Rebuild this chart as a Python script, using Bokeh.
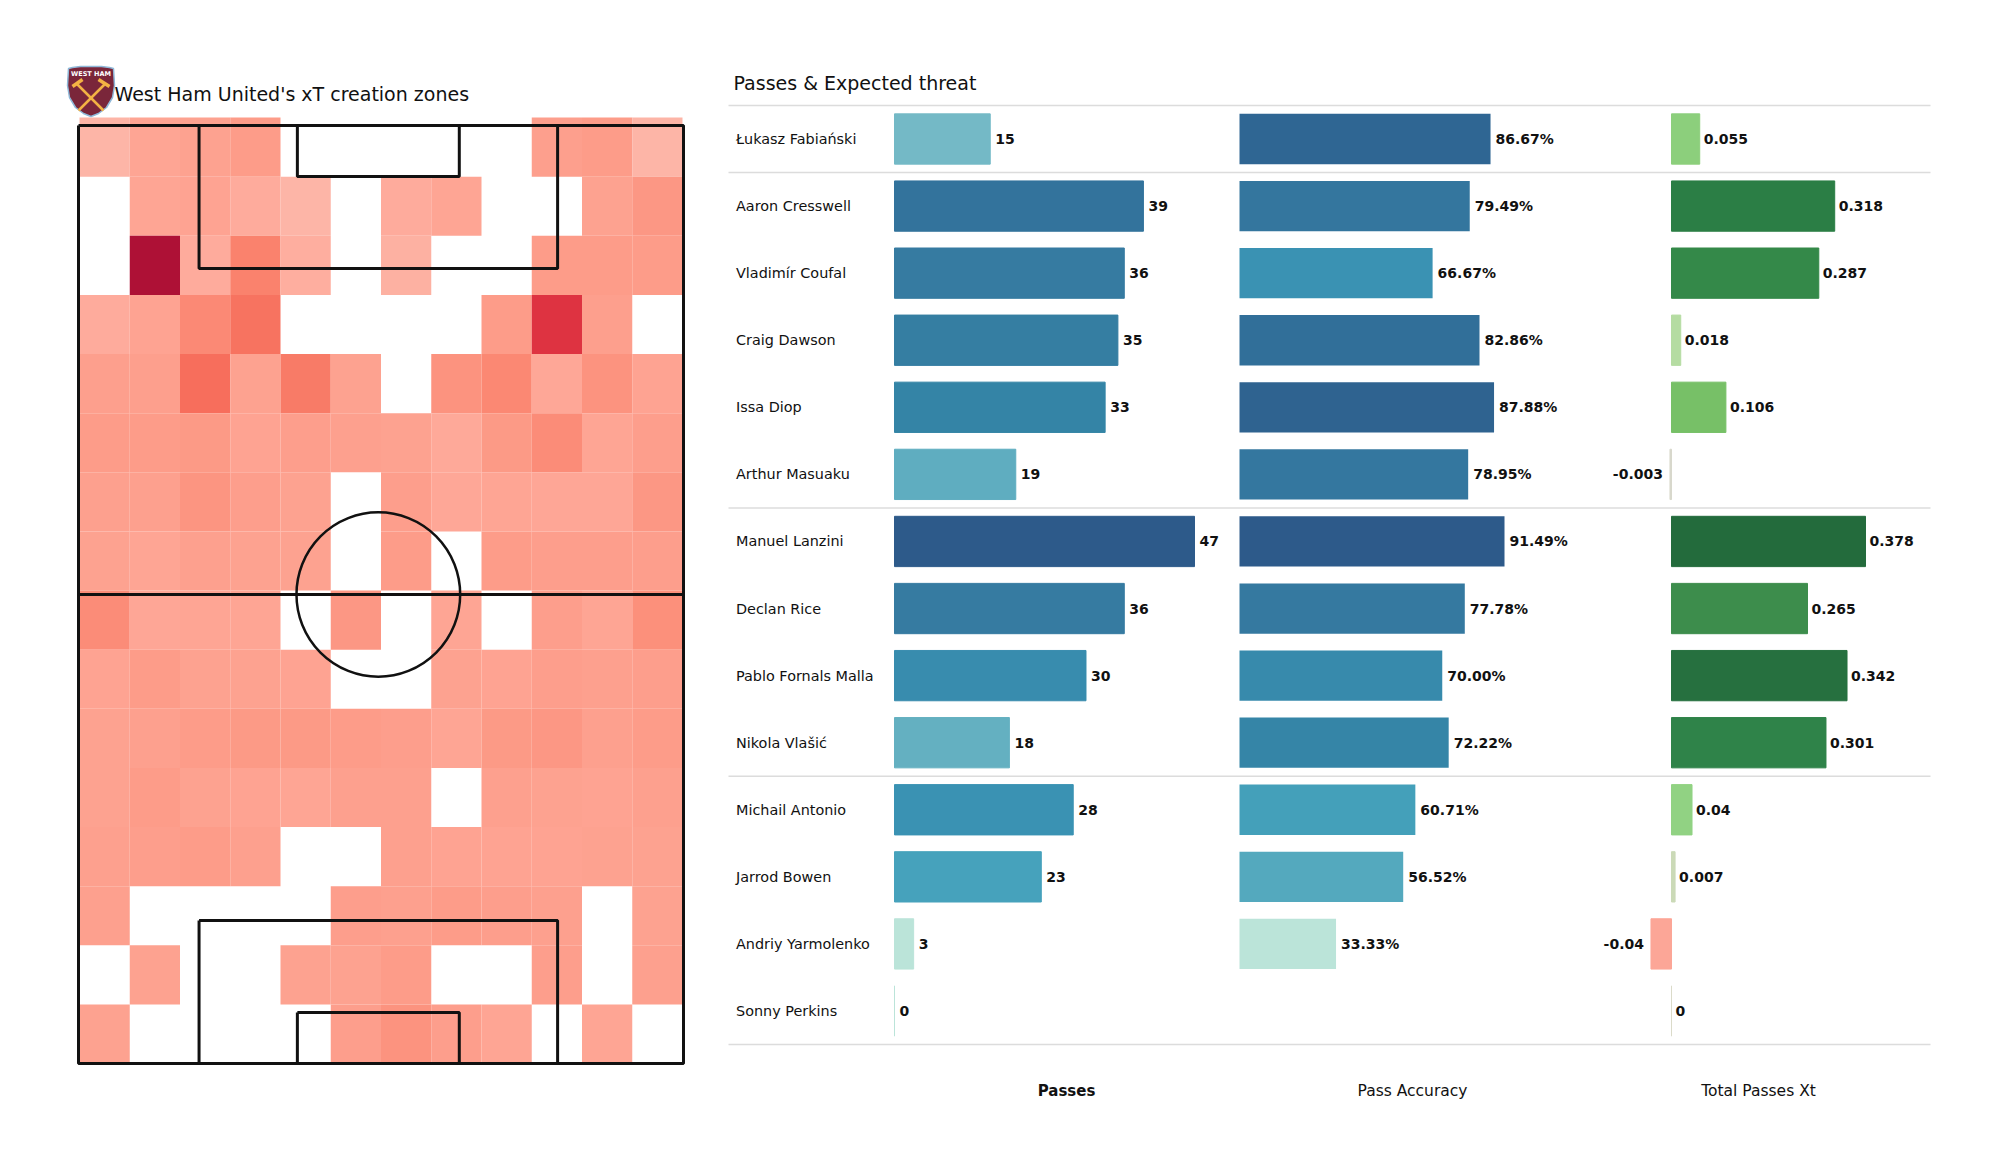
import math
from bokeh.plotting import figure
from bokeh.models import Range1d, ColumnDataSource, LinearColorMapper
from bokeh.core.properties import value
from bokeh.embed import file_html
from bokeh.resources import INLINE

# ---------- data ----------
players = ["Łukasz Fabiański", "Aaron Cresswell", "Vladimír Coufal", "Craig Dawson", "Issa Diop",
           "Arthur Masuaku", "Manuel Lanzini", "Declan Rice", "Pablo Fornals Malla", "Nikola Vlašić",
           "Michail Antonio", "Jarrod Bowen", "Andriy Yarmolenko", "Sonny Perkins"]
passes = [15, 39, 36, 35, 33, 19, 47, 36, 30, 18, 28, 23, 3, 0]
accuracy = [86.67, 79.49, 66.67, 82.86, 87.88, 78.95, 91.49, 77.78, 70.00, 72.22, 60.71, 56.52, 33.33, None]
xt = [0.055, 0.318, 0.287, 0.018, 0.106, -0.003, 0.378, 0.265, 0.342, 0.301, 0.04, 0.007, -0.04, 0]
xt_labels = ["0.055", "0.318", "0.287", "0.018", "0.106", "-0.003", "0.378", "0.265", "0.342", "0.301", "0.04", "0.007", "-0.04", "0"]
separators_after = [-1, 0, 5, 9, 13]
columns = ["Passes", "Pass Accuracy", "Total Passes Xt"]

N = None
zones = [
    [15, 28, 32, 38, N, N, N, N, N, 35, 38, 15],
    [N, 28, 30, 22, 15, N, 22, 28, N, N, 32, 42],
    [N, 100, 22, 58, 20, N, 18, N, N, 38, 38, 38],
    [22, 30, 52, 68, N, N, N, N, 38, 85, 35, N],
    [35, 35, 70, 32, 64, 32, N, 46, 53, 25, 46, 30],
    [38, 38, 40, 30, 36, 34, 32, 24, 40, 50, 28, 36],
    [34, 34, 44, 36, 32, N, 36, 25, 28, 26, 26, 42],
    [32, 28, 34, 32, 32, N, 38, N, 38, 36, 36, 36],
    [50, 26, 28, 28, N, 42, N, 28, N, 36, 28, 48],
    [30, 38, 32, 32, 30, N, N, 32, 30, 36, 34, 36],
    [32, 34, 38, 40, 40, 38, 36, 28, 40, 42, 34, 38],
    [32, 38, 32, 30, 28, 34, 34, N, 34, 32, 30, 34],
    [34, 36, 38, 34, N, N, 34, 30, 30, 30, 32, 32],
    [34, N, N, N, N, 36, 34, 38, 36, 34, N, 32],
    [N, 32, N, N, 32, 32, 38, N, N, 36, N, 34],
    [32, N, N, N, N, 36, 46, 36, 28, N, 28, N],
]

# ---------- palettes ----------
def ramp(stops, n=256):
    out = []
    for i in range(n):
        t = i / (n - 1)
        for (a, ca), (b, cb) in zip(stops, stops[1:]):
            if a <= t <= b:
                f = (t - a) / (b - a) if b > a else 0
                rgb = [round(int(ca[k:k+2], 16) + f * (int(cb[k:k+2], 16) - int(ca[k:k+2], 16))) for k in (1, 3, 5)]
                out.append("#%02x%02x%02x" % tuple(rgb))
                break
    return out

heat_pal = ramp([(0, "#fdc4b8"), (.15, "#fdb5a7"), (.25, "#fea797"), (.35, "#fd9f8d"), (.45, "#fc9480"),
                 (.55, "#fb8570"), (.65, "#f87a66"), (.72, "#f66a58"), (.85, "#de3341"), (1, "#ae1136")])
blue_pal = ramp([(0, "#bbe4d9"), (.27, "#74b9c6"), (.36, "#60aec0"), (.45, "#46a3bc"), (.57, "#3a92b3"),
                 (.68, "#3484a6"), (.75, "#367ba1"), (.85, "#31709a"), (1, "#2d5a8a")])
green_pal = ramp([(0, "#fca697"), (.085, "#d8d8cc"), (.096, "#dcdcc8"), (.115, "#c4d9b0"), (.14, "#b3dca0"),
                  (.19, "#90d282"), (.22, "#8dd07d"), (.34, "#78c168"), (.72, "#3e8d4d"), (.78, "#358a49"),
                  (.81, "#30844a"), (.85, "#2c8046"), (.91, "#26703f"), (1, "#236b3c")])

# ---------- canvas: page pixels ----------
W, H = 1984, 1159
PX0, PY0 = 0, 0
PX1, PY1 = PX0 + W, PY0 + H

p = figure(width=W, height=H, output_backend="svg", toolbar_location=None,
           x_range=Range1d(PX0, PX1), y_range=Range1d(PY1, PY0),
           min_border=0, outline_line_color=None, background_fill_color="white", border_fill_color="white")
p.axis.visible = False
p.grid.visible = False

def xspan(v0, px0, v1, px1):
    k = (v1 - v0) / (px1 - px0)
    return Range1d(v0 + (PX0 - px0) * k, v0 + (PX1 - px0) * k)

def yspan(v0, px0, v1, px1):
    k = (v1 - v0) / (px1 - px0)
    return Range1d(v0 + (PY1 - px0) * k, v0 + (PY0 - px0) * k)

p.extra_x_ranges = {
    "cols": xspan(0, 79, 12, 682),
    "pitchx": xspan(0, 78, 68, 683),
    "passes": xspan(0, 894, 47, 1194),
    "acc": xspan(0, 1239, 91.49, 1504),
    "xt": xspan(0, 1671, 0.378, 1865),
}
p.extra_y_ranges = {
    "rows": yspan(0, 117, 16, 1063),
    "pitchy": yspan(0, 125, 105, 1063),
    "players": yspan(0, 138.5, 13, 1010.5),
}

FONT = value("DejaVu Sans")

# ---------- heat map ----------
cx, cy, cv = [], [], []
for r, row in enumerate(zones):
    for c, v in enumerate(row):
        if v is not None:
            cx.append(c + .5); cy.append(r + .5); cv.append(v)
heat_map = LinearColorMapper(palette=heat_pal, low=0, high=100)
p.rect(x="x", y="y", width=1, height=1, source=ColumnDataSource(dict(x=cx, y=cy, v=cv)),
       x_range_name="cols", y_range_name="rows",
       fill_color={"field": "v", "transform": heat_map}, line_color=None)

# ---------- pitch ----------
pw, pl = 68, 105
mid = 33.7
box_w, box_d = 40.3, 16
six_w, six_d = 18.2, 5.7
def rect_path(x0, y0, x1, y1):
    return [x0, x1, x1, x0, x0], [y0, y0, y1, y1, y0]
paths = [rect_path(0, 0, pw, pl),
         rect_path(mid - box_w / 2, 0, mid + box_w / 2, box_d),
         rect_path(mid - box_w / 2, pl - box_d, mid + box_w / 2, pl),
         rect_path(mid - six_w / 2, 0, mid + six_w / 2, six_d),
         rect_path(mid - six_w / 2, pl - six_d, mid + six_w / 2, pl),
         ([0, pw], [pl / 2, pl / 2])]
p.multi_line([a for a, b in paths], [b for a, b in paths], x_range_name="pitchx", y_range_name="pitchy",
             line_color="#111111", line_width=3)
p.ellipse(x=[mid], y=[pl / 2], width=[18.4], height=[18.4], x_range_name="pitchx", y_range_name="pitchy",
          fill_color=None, line_color="#111111", line_width=2.5)

# ---------- separators ----------
sep_y = [s + .5 for s in separators_after]
p.segment(x0=[728] * 5, x1=[1930] * 5, y0=sep_y, y1=sep_y, y_range_name="players",
          line_color="#dcdcdc", line_width=1.5)

# ---------- bars ----------
idx = list(range(len(players)))
BAR_H = 0.75
pass_map = LinearColorMapper(palette=blue_pal, low=3, high=47)
acc_map = LinearColorMapper(palette=blue_pal, low=33.33, high=91.49)
xt_map = LinearColorMapper(palette=green_pal, low=-0.04, high=0.378)

s1 = ColumnDataSource(dict(y=idx, v=passes, l=[str(v) for v in passes]))
p.hbar(y="y", left=0, right="v", height=BAR_H, source=s1, x_range_name="passes", y_range_name="players",
       fill_color={"field": "v", "transform": pass_map}, line_color={"field": "v", "transform": pass_map}, line_width=1)
p.text(x="v", y="y", text="l", source=s1, x_range_name="passes", y_range_name="players", x_offset=5,
       text_align="left", text_baseline="middle", text_font=FONT, text_font_style="bold", text_font_size="14px", text_color="#111111")

acc_i = [i for i in idx if accuracy[i] is not None]
s2 = ColumnDataSource(dict(y=acc_i, v=[accuracy[i] for i in acc_i], l=["%.2f%%" % accuracy[i] for i in acc_i]))
p.hbar(y="y", left=0, right="v", height=BAR_H, source=s2, x_range_name="acc", y_range_name="players",
       fill_color={"field": "v", "transform": acc_map}, line_color=None)
p.text(x="v", y="y", text="l", source=s2, x_range_name="acc", y_range_name="players", x_offset=5,
       text_align="left", text_baseline="middle", text_font=FONT, text_font_style="bold", text_font_size="14px", text_color="#111111")

s3 = ColumnDataSource(dict(y=idx, v=xt, l=xt_labels))
p.hbar(y="y", left=0, right="v", height=BAR_H, source=s3, x_range_name="xt", y_range_name="players",
       fill_color={"field": "v", "transform": xt_map}, line_color={"field": "v", "transform": xt_map}, line_width=1)
pos = [i for i in idx if xt[i] >= 0]
neg = [i for i in idx if xt[i] < 0]
p.text(x=[xt[i] for i in pos], y=pos, text=[xt_labels[i] for i in pos], x_range_name="xt", y_range_name="players", x_offset=4,
       text_align="left", text_baseline="middle", text_font=FONT, text_font_style="bold", text_font_size="14px", text_color="#111111")
p.text(x=[xt[i] for i in neg], y=neg, text=[xt_labels[i] for i in neg], x_range_name="xt", y_range_name="players", x_offset=-7,
       text_align="right", text_baseline="middle", text_font=FONT, text_font_style="bold", text_font_size="14px", text_color="#111111")

# ---------- texts ----------
p.text(x=[735.5] * len(players), y=idx, text=players, y_range_name="players",
       text_align="left", text_baseline="middle", text_font=FONT, text_font_size="14.4px", text_color="#111111")
p.text(x=[114], y=[93], text=["West Ham United's xT creation zones"], text_align="left", text_baseline="middle",
       text_font=FONT, text_font_size="19px", text_color="#111111")
p.text(x=[733], y=[82], text=["Passes & Expected threat"], text_align="left", text_baseline="middle",
       text_font=FONT, text_font_size="19px", text_color="#111111")
for name, x, style, size in zip(columns, [1066, 1412, 1758], ["bold", "normal", "normal"], ["15px", "15.5px", "15.5px"]):
    p.text(x=[x], y=[1090], text=[name], text_align="center", text_baseline="middle",
           text_font=FONT, text_font_style=style, text_font_size=size, text_color="#111111")

# ---------- crest ----------
sx = [68, 72, 80, 90.5, 101, 109, 113, 114, 112, 106, 98, 90.5, 83, 75, 69, 67]
sy = [68, 67, 66, 66, 66, 67, 68, 85, 97, 107, 113, 116, 113, 107, 97, 85]
p.patch(sx, sy, fill_color="#7a263a", line_color="#8fb8d8", line_width=1.5)
p.multi_line([[76, 103], [105, 78]], [[83, 110], [83, 110]], line_color="#f3b344", line_width=2.5)
p.multi_line([[72, 82], [98, 109]], [[86, 79], [79, 86]], line_color="#f3b344", line_width=3.5)
p.text(x=[90.5], y=[73], text=["WEST HAM"], text_align="center", text_baseline="middle", text_font=FONT,
       text_font_style="bold", text_font_size="6.5px", text_color="#ffffff")

open("out.html", "w").write(file_html(p, INLINE))
